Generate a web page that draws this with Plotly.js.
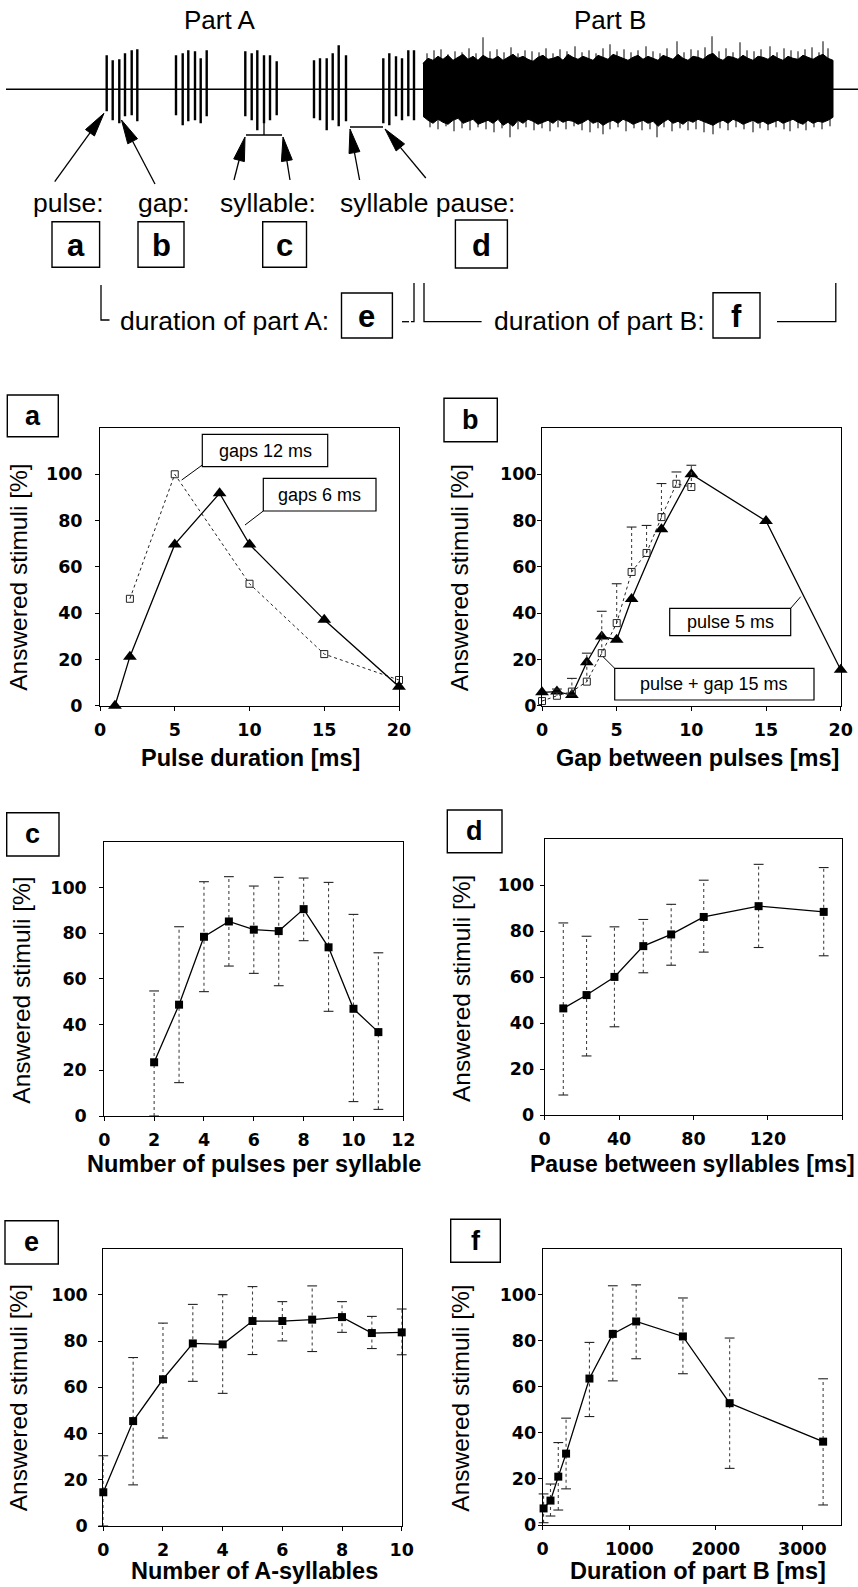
<!DOCTYPE html>
<html><head><meta charset="utf-8">
<script src="https://cdn.plot.ly/plotly-3.0.1.min.js"></script>
<style>html,body{margin:0;padding:0;background:#fff}#chart{width:858px;height:1587px}</style>
</head><body><div id="chart"></div>
<script>
// ================= DATA =================
// Oscillogram sketch (diagram units; amplitudes up/down from baseline)
const pulseX = [106.7,112.7,119.3,125,131.7,137.3, 176,182.7,188.3,195,200.7,206.7,
                245.3,251.7,257.3,264,270,276.7, 314,320,326.7,332.7,338.7,346,
                383.3,389.3,396,402,408.3,414];
const pulseUp = [34,29,30,36,39,40, 34,36,39,38,31,39, 38,36,39,34,34,28, 29,31,31,36,44,34, 31,36,33,31,39,39];
const pulseDown = [22,31,34,27,26,32, 26,36,32,31,34,27, 27,31,41,34,31,26, 29,31,41,31,37,32, 34,36,27,31,27,31];
// noise body envelope (part B)
const noiseX = [423,428,433,438,443,448,453,458,463,468,473,478,483,488,493,498,503,508,513,518,523,528,533,538,543,548,553,558,563,568,573,578,583,588,593,598,603,608,613,618,623,628,633,638,643,648,653,658,663,668,673,678,683,688,693,698,703,708,713,718,723,728,733,738,743,748,753,758,763,768,773,778,783,788,793,798,803,808,813,818,823,828,833];
const noiseUp = [26,31,29,33,30,34,29,32,35,30,33,29,34,31,30,33,29,32,35,31,33,30,28,32,34,30,31,33,29,35,32,30,33,31,29,34,32,30,35,33,31,29,32,34,30,33,31,29,34,32,30,35,31,29,33,32,30,34,36,31,29,33,32,30,34,31,29,33,32,30,34,31,29,33,31,30,34,32,30,33,35,31,29];
const noiseDown = [27,31,34,30,33,35,31,29,34,32,30,35,33,31,34,30,36,33,37,31,34,30,32,35,33,31,34,30,33,31,32,35,33,30,34,32,36,33,31,34,30,32,35,33,31,34,32,37,33,30,34,32,35,31,33,30,32,34,36,33,31,34,30,32,35,33,31,34,32,35,33,31,34,32,30,33,35,31,34,32,33,31,28];
// needle spikes on the noise edges
const spikeUpX = [427,434,441,448,455,462,469,476,483,490,497,504,511,518,525,532,539,546,553,560,567,575,582,589,596,603,610,617,624,631,638,646,653,660,667,677,684,691,698,705,712,719,726,733,740,747,754,761,770,777,784,791,798,805,812,819,823,828];
const spikeUp = [36,39,40,35,38,37,41,36,52,38,40,37,42,36,39,38,37,41,36,40,38,43,37,39,36,41,45,38,40,37,39,43,38,36,41,48,37,40,39,42,53,38,41,37,47,39,38,40,43,37,41,39,38,40,42,37,48,41];
const spikeDownX = [430,438,446,454,462,470,478,486,494,502,510,518,526,534,542,550,558,566,574,582,590,598,603,610,618,626,634,642,650,657,664,672,680,688,696,704,713,720,728,736,744,753,760,768,776,784,790,798,806,814,822,830];
const spikeDown = [38,40,37,42,39,41,38,40,43,39,48,40,38,41,39,42,38,40,37,41,43,39,45,40,38,42,39,41,40,48,38,42,39,41,40,43,45,39,41,38,40,43,39,41,38,40,42,39,41,38,40,37];

// Panel a: pulse duration
const aXgap6 = [1,2,5,8,10,15,20];
const aYgap6 = [0,21.2,69.7,91.8,69.7,37.1,8.2];
const aXgap12 = [2,5,10,15,20];
const aYgap12 = [46.2,100,52.7,22.3,11.1];
const aTicks = [0,5,10,15,20];

// Panel b: gap between pulses
const bXpulse5 = [0,1,2,3,4,5,6,8,10,15,20];
const bYpulse5 = [5.8,6.1,4.6,18.8,29.9,28.5,46.1,76.2,100,79.8,15.5];
const bXsum15 = [0,1,2,3,4,5,6,7,8,9,10];
const bYsum15 = [2.0,4.3,6.1,10.4,22.7,35.7,57.8,66.0,81.5,95.9,94.5];
const bErrSum15 = [0,2.9,5.7,12.3,18.1,17.0,19.4,11.9,14.5,5.1,9.4];
const bTicks = [0,5,10,15,20];

// Panel c: pulses per syllable
const cX = [2,3,4,5,6,7,8,9,10,11];
const cY = [23.5,48.7,78.4,85.1,81.5,80.9,90.5,73.8,46.9,36.7];
const cErrUp = [31.2,34.1,24.1,19.6,19.1,23.5,13.6,28.4,41.3,34.7];
const cErrDn = [23.5,34.1,24.0,19.5,19.1,23.9,13.8,28.0,40.6,33.8];
const cTicks = [0,2,4,6,8,10,12];

// Panel d: pause between syllables
const dX = [10,22.5,37.5,53,68,85.5,115,150];
const dY = [46.4,52.2,60.1,73.5,78.6,86.2,90.9,88.4];
const dErrUp = [37.2,25.6,21.8,11.6,13.1,16.0,18.2,19.3];
const dErrDn = [37.7,26.5,21.7,11.6,13.4,15.3,18.0,19.1];
const dTicks = [0,40,80,120,160];

// Panel e: number of A-syllables
const eX = [0,1,2,3,4,5,6,7,8,9,10];
const eY = [14.6,45.4,63.5,79.0,78.6,88.7,88.7,89.3,90.4,83.5,83.8];
const eErrUp = [15.8,27.5,24.3,16.9,21.5,14.9,8.4,14.6,6.7,7.2,10.1];
const eErrDn = [14.6,27.6,25.4,16.4,21.2,14.5,8.6,13.8,6.6,6.7,9.7];
const eTicks = [0,2,4,6,8,10];

// Panel f: duration of part B
const fX = [10,90,180,270,540,810,1080,1620,2160,3240];
const fY = [7.2,10.6,21,31,63.6,83,88.4,81.9,52.9,36.2];
const fErrUp = [6.3,7.2,14.8,15.4,15.7,20.9,15.9,16.7,28.3,27.3];
const fErrDn = [6.2,6.7,14.5,15.3,16.5,20.4,16.2,16.2,28.3,27.5];
const fTicks = [0,1000,2000,3000];

const yTicks = [0,20,40,60,80,100];

// ================= LAYOUT HELPERS =================
const W = 858, H = 1587;
const PX = x => x / W;
const PY = y => 1 - y / H;
const SANS = 'Liberation Sans, Arial, Helvetica, sans-serif';
const TICKF = 'DejaVu Sans, sans-serif';

const traces = [];
const layout = {
  width: W, height: H, margin: {l:0, r:0, t:0, b:0},
  paper_bgcolor: '#fff', plot_bgcolor: 'rgba(0,0,0,0)',
  showlegend: false, shapes: [], annotations: []
};

function axisPair(n, xpx, ypx, xr, xt, yStand) {
  const common = {
    ticks: 'outside', ticklen: 4, tickwidth: 1, tickcolor: '#000',
    showline: true, linecolor: '#000', linewidth: 1, mirror: true,
    showgrid: false, zeroline: false, fixedrange: true,
    tickfont: {family: TICKF, size: 17.5, color: '#000', weight: 'bold'}
  };
  layout['xaxis' + n] = Object.assign({}, common, {
    domain: [PX(xpx[0]), PX(xpx[1])], range: xr, tickvals: xt,
    anchor: 'y' + n, ticklabelstandoff: 4
  });
  layout['yaxis' + n] = Object.assign({}, common, {
    domain: [PY(ypx[1]), PY(ypx[0])], range: [0, 120], tickvals: yTicks,
    anchor: 'x' + n, ticklabelstandoff: yStand
  });
}

axisPair('',  [100, 399],   [428, 705.7], [0, 20],   aTicks, 9);
axisPair(2,   [542, 840.7], [428, 705.7], [0, 20],   bTicks, -3);
axisPair(3,   [104.3, 403.3], [841.7, 1116], [0, 12], cTicks, 9);
axisPair(4,   [544.7, 842.3], [839.3, 1115], [0, 160], dTicks, 2);
axisPair(5,   [103.3, 401.7], [1248.7, 1526], [0, 10], eTicks, 7);
axisPair(6,   [542.7, 841.3], [1248.7, 1525], [0, 3450], fTicks, -2);

// waveform axes
layout.xaxis7 = {domain: [0, 1], range: [0, W], visible: false, fixedrange: true, anchor: 'y7'};
layout.yaxis7 = {domain: [PY(149.3), PY(29.3)], range: [-60, 60], visible: false, fixedrange: true, anchor: 'x7'};

// ================= TRACES =================
function lineTrace(xa, ya, x, y, opts) {
  return Object.assign({
    type: 'scatter', mode: 'lines+markers', x: x, y: y, xaxis: xa, yaxis: ya,
    cliponaxis: false, hoverinfo: 'skip',
    line: {color: '#000', width: 1.3},
    marker: {symbol: 'square', size: 8, color: '#000'}
  }, opts || {});
}
// dotted error bars with solid caps, built from the data arrays
function errBars(xa, ya, x, y, up, dn) {
  const sx = [], sy = [], cx = [], cy = [];
  x.forEach((xi, i) => {
    if (up[i] + dn[i] <= 0) return;
    sx.push(xi, xi, null); sy.push(y[i] - dn[i], y[i] + up[i], null);
    if (up[i] > 0) { cx.push(xi); cy.push(y[i] + up[i]); }
    if (dn[i] > 0) { cx.push(xi); cy.push(y[i] - dn[i]); }
  });
  traces.push({type: 'scatter', mode: 'lines', x: sx, y: sy, xaxis: xa, yaxis: ya,
    line: {color: '#444', width: 1.1, dash: 'dot'}, hoverinfo: 'skip', cliponaxis: false});
  traces.push({type: 'scatter', mode: 'markers', x: cx, y: cy, xaxis: xa, yaxis: ya,
    marker: {symbol: 'line-ew', size: 7, line: {color: '#222', width: 1.1}}, hoverinfo: 'skip', cliponaxis: false});
}

// panel a
traces.push(lineTrace('x', 'y', aXgap12, aYgap12, {
  line: {color: '#222', width: 1, dash: 'dot'},
  marker: {symbol: 'square-open', size: 7, color: '#222', line: {width: 1, color: '#222'}}
}));
traces.push(lineTrace('x', 'y', aXgap6, aYgap6, {
  marker: {symbol: 'triangle-up', size: 12, color: '#000'}
}));
// panel b
traces.push(lineTrace('x2', 'y2', bXpulse5, bYpulse5, {
  marker: {symbol: 'triangle-up', size: 12, color: '#000'}
}));
errBars('x2', 'y2', bXsum15, bYsum15, bErrSum15, bErrSum15.map(() => 0));
traces.push(lineTrace('x2', 'y2', bXsum15, bYsum15, {
  line: {color: '#222', width: 1, dash: 'dot'},
  marker: {symbol: 'square-open', size: 7, color: '#222', line: {width: 1, color: '#222'}}
}));
// panels c-f
function errPanel(xa, ya, x, y, up, dn) {
  errBars(xa, ya, x, y, up, dn);
  traces.push(lineTrace(xa, ya, x, y));
}
errPanel('x3', 'y3', cX, cY, cErrUp, cErrDn);
errPanel('x4', 'y4', dX, dY, dErrUp, dErrDn);
errPanel('x5', 'y5', eX, eY, eErrUp, eErrDn);
errPanel('x6', 'y6', fX, fY, fErrUp, fErrDn);

// waveform: pulses
const wx = [], wy = [];
pulseX.forEach((p, i) => { wx.push(p, p, null); wy.push(pulseUp[i], -pulseDown[i], null); });
traces.push({type: 'scatter', mode: 'lines', x: wx, y: wy, xaxis: 'x7', yaxis: 'y7',
  line: {color: '#000', width: 2.4}, hoverinfo: 'skip', cliponaxis: false});
// waveform: noise band
traces.push({type: 'scatter', mode: 'lines', fill: 'toself', fillcolor: '#000',
  x: noiseX.concat(noiseX.slice().reverse()),
  y: noiseUp.concat(noiseDown.map(v => -v).reverse()),
  xaxis: 'x7', yaxis: 'y7', line: {color: '#000', width: 1}, hoverinfo: 'skip', cliponaxis: false});
// waveform: needle spikes
const kx = [], ky = [];
spikeUpX.forEach((p, i) => { if (i < spikeUp.length) { kx.push(p, p, null); ky.push(0, spikeUp[i], null); } });
spikeDownX.forEach((p, i) => { if (i < spikeDown.length) { kx.push(p, p, null); ky.push(0, -spikeDown[i], null); } });
traces.push({type: 'scatter', mode: 'lines', x: kx, y: ky, xaxis: 'x7', yaxis: 'y7',
  line: {color: '#000', width: 1}, hoverinfo: 'skip', cliponaxis: false});

// ================= DECORATIONS =================
const S = layout.shapes, A = layout.annotations;
S.push({type: 'line', xref: 'paper', yref: 'y7', x0: PX(6), x1: 1, y0: 0, y1: 0, line: {color: '#000', width: 1.6}});

function box(x0, y0, x1, y1, lw) {
  S.push({type: 'rect', xref: 'paper', yref: 'paper', x0: PX(x0), x1: PX(x1), y0: PY(y1), y1: PY(y0),
    line: {color: '#000', width: lw || 1.4}, fillcolor: '#fff', layer: 'above'});
}
function text(t, x, y, size, bold, angle) {
  A.push({text: t, x: PX(x), y: PY(y), xref: 'paper', yref: 'paper', showarrow: false,
    xanchor: 'center', yanchor: 'middle', textangle: angle || 0,
    font: {family: SANS, size: size, color: '#000', weight: bold ? 'bold' : 'normal'}});
}
function seg(pts, w) {
  let d = 'M' + pts.map(p => PX(p[0]) + ',' + PY(p[1])).join('L');
  S.push({type: 'path', xref: 'paper', yref: 'paper', path: d, line: {color: '#000', width: w || 1.3}});
}
function arrow(tail, tip, L, Wd) {
  L = L || 24; Wd = Wd || 11;
  const dx = tip[0] - tail[0], dy = tip[1] - tail[1];
  const len = Math.hypot(dx, dy), ux = dx / len, uy = dy / len;
  const bx = tip[0] - L * ux, by = tip[1] - L * uy;
  const nx = -uy, ny = ux;
  seg([tail, [bx, by]], 1.3);
  const p1 = [bx + nx * Wd / 2, by + ny * Wd / 2], p2 = [bx - nx * Wd / 2, by - ny * Wd / 2];
  S.push({type: 'path', xref: 'paper', yref: 'paper',
    path: 'M' + [tip, p1, p2].map(p => PX(p[0]) + ',' + PY(p[1])).join('L') + 'Z',
    fillcolor: '#000', line: {color: '#000', width: 1}});
}

// Diagram texts
text('Part A', 219, 20, 26);
text('Part B', 610, 20, 26);
text('pulse:', 68, 203, 26.5);
text('gap:', 164, 203, 26.5);
text('syllable:', 268, 203, 26.5);
text('syllable pause:', 427, 203, 26.5);
text('duration of part A:', 224, 321, 26.5);
text('duration of part B:', 599, 321, 26.5);

// Diagram arrows and brackets
arrow([54.7, 181.7], [104, 113.3]);
arrow([155, 184], [121.5, 120]);
seg([[246, 135], [282, 135]], 1.5);
seg([[264, 135], [264, 113]], 1.3);
arrow([234, 180], [245, 137]);
arrow([290, 180], [283, 137]);
seg([[350, 127], [383, 127]], 1.5);
arrow([359.6, 180], [350, 129]);
arrow([425.8, 178], [385, 129]);
seg([[101, 285], [101, 320], [109.5, 320]], 1.3);
seg([[402, 321.7], [409, 321.7]], 1.3);
seg([[411, 321.7], [414, 321.7], [414, 283]], 1.3);
seg([[424, 283], [424, 321.7], [481.6, 321.7]], 1.3);
seg([[777, 321.7], [835.8, 321.7], [835.8, 283]], 1.3);

// Diagram letter boxes
const diagBoxes = [['a', 52, 221.7, 99.6, 267.3], ['b', 138, 221.7, 184, 267.3], ['c', 262.7, 221.7, 306.5, 267.3],
  ['d', 455.4, 220, 507.4, 268], ['e', 341.5, 293, 392.4, 338], ['f', 713, 292.7, 760, 338]];
diagBoxes.forEach(b => { box(b[1], b[2], b[3], b[4]); text(b[0], (b[1] + b[3]) / 2, (b[2] + b[4]) / 2 + 1, 31, true); });

// Panel letter boxes
const panelBoxes = [['a', 7.3, 395, 58.3, 436.7], ['b', 444, 398.3, 497.3, 441.7], ['c', 6.7, 812.7, 59, 856],
  ['d', 447.3, 810, 502, 852.7], ['e', 5, 1220.7, 58.3, 1264], ['f', 450.7, 1219.3, 500.3, 1262.3]];
panelBoxes.forEach(b => { box(b[1], b[2], b[3], b[4]); text(b[0], (b[1] + b[3]) / 2, (b[2] + b[4]) / 2, 27, true); });

// Callout boxes
box(202.3, 434.3, 327.7, 466.7, 1.2); text('gaps 12 ms', 265, 450.5, 18);
seg([[202.3, 465], [181.7, 480]], 1);
box(263.3, 478.3, 376, 511, 1.2); text('gaps 6 ms', 319.7, 494.7, 18);
seg([[263.3, 511], [245, 525]], 1);
box(669.7, 608.3, 790.7, 635.7, 1.2); text('pulse 5 ms', 730.2, 622, 18);
seg([[790.7, 608.3], [800.7, 596.7]], 1);
box(614.7, 668.3, 814, 700, 1.2); text('pulse + gap 15 ms', 714.3, 684.2, 18);
seg([[614.7, 668.3], [603, 656.7]], 1);

// Axis titles
const yTitle = 'Answered stimuli [%]';
[[18.3, 577.5], [459.7, 577.5], [21.7, 990], [461, 988], [18.3, 1398], [459.7, 1398]]
  .forEach(p => text(yTitle, p[0], p[1], 24.5, false, -90));
text('Pulse duration [ms]', 250.5, 758, 23.5, true);
text('Gap between pulses [ms]', 697, 758, 23.5, true);
text('Number of pulses per syllable', 254, 1164, 23.5, true);
text('Pause between syllables [ms]', 692, 1164, 23, true);
text('Number of A-syllables', 254, 1571, 23.5, true);
text('Duration of part B [ms]', 698, 1571, 23.5, true);

Plotly.newPlot('chart', traces, layout, {staticPlot: true, displayModeBar: false});
</script>
</body></html>
